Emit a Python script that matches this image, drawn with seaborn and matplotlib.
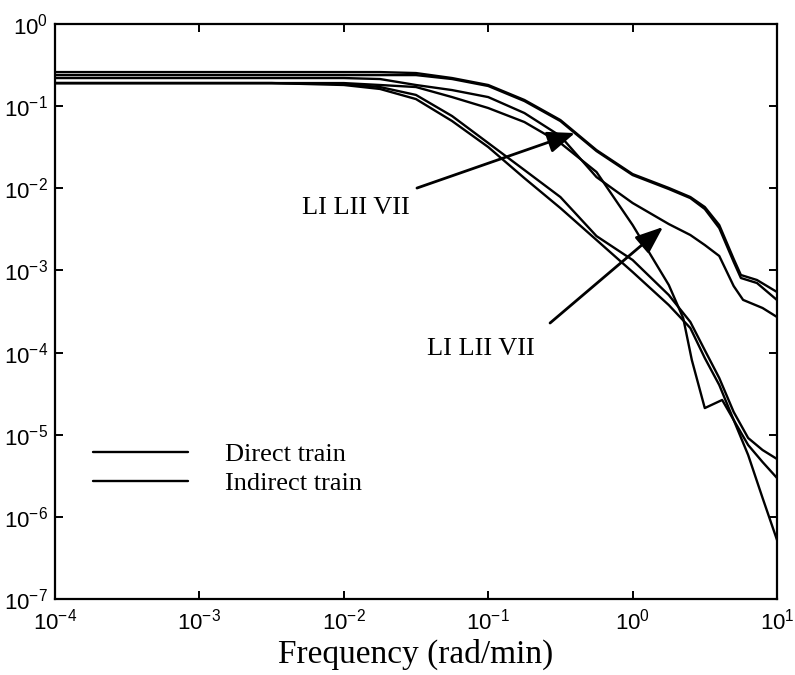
import matplotlib
matplotlib.use("Agg")
import numpy as np
import pandas as pd
import matplotlib.pyplot as plt
import seaborn as sns
from matplotlib.lines import Line2D
from matplotlib.ticker import NullLocator

# Frequency grids (rad/min)
freq_std = [1e-4, 3.16e-3, 1e-2, 1.78e-2, 3.16e-2, 5.62e-2, 0.1, 0.178, 0.316,
            0.562, 1.0, 1.78, 2.51, 3.16, 3.98, 5.01, 6.31, 7.94, 10.0]
freq_top = [1e-4, 3.16e-3, 1e-2, 1.78e-2, 3.16e-2, 5.62e-2, 0.1, 0.178, 0.316,
            0.562, 1.0, 1.78, 2.51, 3.16, 3.98, 5.01, 5.62, 7.26, 10.0]
freq_bump = [1e-4, 3.16e-3, 1e-2, 1.78e-2, 3.16e-2, 5.62e-2, 0.1, 0.178, 0.316,
             0.562, 1.0, 1.78, 2.51, 3.16, 3.98, 5.01, 5.82, 7.94, 10.0]
freq_notch = [1e-4, 3.16e-3, 1e-2, 1.78e-2, 3.16e-2, 5.62e-2, 0.1, 0.178, 0.316,
              0.562, 1.0, 1.78, 2.24, 2.57, 3.16, 4.17, 5.01, 6.31, 7.94, 10.0]

# Direct train spectra
direct_LI = [0.26, 0.26, 0.26, 0.26, 0.253, 0.220, 0.181, 0.119, 0.0678, 0.0292,
             0.0149, 0.0101, 0.00783, 0.00592, 0.00357, 0.00138, 0.00088,
             0.000765, 0.000546]
direct_LII = [0.239, 0.239, 0.239, 0.239, 0.239, 0.214, 0.176, 0.1155, 0.0659,
              0.0284, 0.0145, 0.0098, 0.0076, 0.0056, 0.00328, 0.00127,
              0.000809, 0.000703, 0.000436]
direct_VII = [0.220, 0.220, 0.220, 0.214, 0.181, 0.157, 0.129, 0.0825, 0.0433,
              0.0137, 0.00662, 0.00367, 0.00270, 0.00204, 0.00150, 0.000645,
              0.000438, 0.000349, 0.000271]

# Indirect train spectra
indirect_LI = [0.191, 0.191, 0.191, 0.181, 0.171, 0.129, 0.0949, 0.0641, 0.0356,
               0.0158, 0.00357, 0.000665, 0.000263, 8.12e-5, 2.11e-5, 2.65e-5,
               1.51e-5, 7.49e-6, 4.65e-6, 2.97e-6]
indirect_LII = [0.191, 0.191, 0.186, 0.171, 0.137, 0.0758, 0.0356, 0.0167,
                0.00783, 0.00262, 0.00134, 0.000502, 0.000236, 0.000107,
                4.90e-5, 1.89e-5, 9.12e-6, 6.51e-6, 5.06e-6]
indirect_VII = [0.191, 0.191, 0.181, 0.162, 0.122, 0.0659, 0.0318, 0.0133,
                0.00575, 0.00235, 0.000957, 0.000379, 0.000199, 8.59e-5,
                4.03e-5, 1.51e-5, 5.66e-6, 1.70e-6, 5.22e-7]

curves = [
    ("Direct train", "LI", freq_top, direct_LI),
    ("Direct train", "LII", freq_top, direct_LII),
    ("Direct train", "VII", freq_bump, direct_VII),
    ("Indirect train", "LI", freq_notch, indirect_LI),
    ("Indirect train", "LII", freq_std, indirect_LII),
    ("Indirect train", "VII", freq_std, indirect_VII),
]
frames = []
for train, line, f, m in curves:
    frames.append(pd.DataFrame({"freq": f, "mag": m, "train": train,
                                "curve": f"{train} {line}"}))
df = pd.concat(frames, ignore_index=True)

sns.set_theme(style="ticks")
plt.rcParams.update({
    "font.family": ["Liberation Sans", "DejaVu Sans"],
    "mathtext.fontset": "custom",
    "mathtext.rm": "Liberation Sans",
    "mathtext.it": "Liberation Sans:italic",
    "mathtext.bf": "Liberation Sans:bold",
    "mathtext.default": "regular",
    "axes.unicode_minus": False,
    "text.color": "black",
    "axes.labelcolor": "black",
})

fig = plt.figure(figsize=(7.95, 6.75), dpi=100, facecolor="white")
ax = fig.add_axes([0.0692, 0.1126, 0.9082, 0.8518])
ax.set(xscale="log", yscale="log")

sns.lineplot(data=df, x="freq", y="mag", hue="train", units="curve",
             estimator=None, sort=False, legend=False, ax=ax,
             palette={"Direct train": "black", "Indirect train": "black"},
             linewidth=1.7)

ax.set_xlim(1e-4, 10)
ax.set_ylim(1e-7, 1)
ax.set_xticks(10.0 ** np.arange(-4, 2))
ax.set_yticks(10.0 ** np.arange(-7, 1))
ax.xaxis.set_minor_locator(NullLocator())
ax.yaxis.set_minor_locator(NullLocator())
ax.tick_params(which="major", direction="in", length=6, width=1.4,
               top=True, right=True, labelsize=16, colors="black")
ax.tick_params(axis="y", pad=5)
ax.tick_params(axis="x", pad=7)
for s in ax.spines.values():
    s.set_linewidth(1.6)
    s.set_color("black")

ax.set_xlabel("Frequency (rad/min)", fontfamily="Liberation Serif",
              fontsize=24, labelpad=3, color="black")
ax.set_ylabel("")

serif = "Liberation Serif"
arrow = dict(arrowstyle="-|>,head_length=1.4,head_width=0.55", color="black",
             lw=2, shrinkA=0, shrinkB=0)

ax.text(0.01213, 0.00575, "LI LII VII", fontfamily=serif, fontsize=19,
        ha="center", va="center", color="black")
ax.annotate("", xy=(0.399, 0.0471), xytext=(0.0321, 0.01007), arrowprops=arrow)

ax.text(0.0891, 1.10e-4, "LI LII VII", fontfamily=serif, fontsize=19,
        ha="center", va="center", color="black")
ax.annotate("", xy=(1.624, 0.00338), xytext=(0.268, 2.29e-4), arrowprops=arrow)

handles = [Line2D([], [], color="black", lw=1.7),
           Line2D([], [], color="black", lw=1.7)]
ax.legend(handles, ["Direct train", "Indirect train"], loc="center left",
          bbox_to_anchor=(0.034, 0.226), frameon=False, borderpad=0,
          handlelength=3.6, handletextpad=1.4, labelspacing=0.2,
          labelcolor="black", prop={"family": serif, "size": 19})

fig.savefig("out.png", dpi=100, facecolor="white")
